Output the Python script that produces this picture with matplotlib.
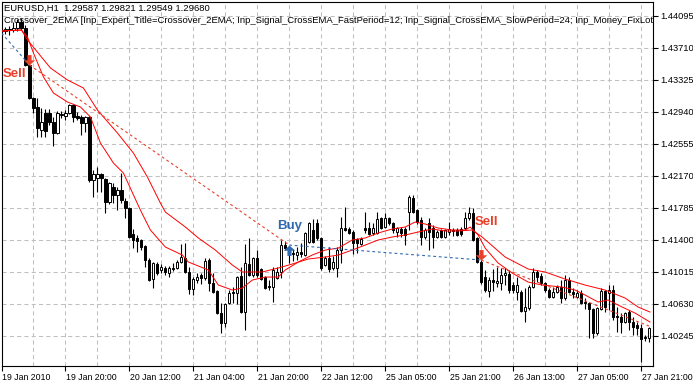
import matplotlib
matplotlib.use("Agg")
import matplotlib.pyplot as plt
from matplotlib.path import Path
from matplotlib.transforms import ScaledTranslation

# EURUSD H1, 19 Jan 2010 .. 27 Jan 2010
opens = [
    1.43923, 1.43911, 1.43935, 1.43923, 1.43947, 1.44019, 1.43947, 1.43502, 1.43105, 1.42997,
    1.42720, 1.42925, 1.42925, 1.42816, 1.42684, 1.42901, 1.42889, 1.42925, 1.43021, 1.42889,
    1.42877, 1.42804, 1.42877, 1.42118, 1.42143, 1.42191, 1.42130, 1.41854, 1.42034, 1.41938,
    1.41998, 1.41866, 1.41781, 1.41469, 1.41421, 1.41397, 1.41324, 1.41156, 1.40927, 1.41108,
    1.41036, 1.41060, 1.41000, 1.41060, 1.41060, 1.41132, 1.41180, 1.41012, 1.40807, 1.40915,
    1.40975, 1.40939, 1.41156, 1.40879, 1.40783, 1.40518, 1.40398, 1.40639, 1.40771, 1.40759,
    1.40963, 1.40530, 1.41108, 1.40975, 1.41180, 1.41048, 1.40951, 1.40843, 1.40831, 1.40939,
    1.41012, 1.41336, 1.41252, 1.41240, 1.41216, 1.41252, 1.41216, 1.41373, 1.41517, 1.41601,
    1.41421, 1.41096, 1.41180, 1.41060, 1.41060, 1.41276, 1.41541, 1.41529, 1.41493, 1.41409,
    1.41348, 1.41541, 1.41541, 1.41481, 1.41481, 1.41661, 1.41553, 1.41661, 1.41601, 1.41493,
    1.41529, 1.41529, 1.41733, 1.41902, 1.41757, 1.41637, 1.41433, 1.41601, 1.41541, 1.41433,
    1.41517, 1.41433, 1.41493, 1.41517, 1.41517, 1.41529, 1.41541, 1.41661, 1.41721, 1.41421,
    1.41132, 1.40951, 1.40783, 1.40915, 1.40879, 1.40879, 1.40975, 1.40988, 1.40855, 1.40771,
    1.40771, 1.40542, 1.40579, 1.40831, 1.41012, 1.40963, 1.40879, 1.40795, 1.40711, 1.40771,
    1.40831, 1.40699, 1.40915, 1.40771, 1.40711, 1.40759, 1.40651, 1.40639, 1.40566, 1.40278,
    1.40566, 1.40783, 1.40759, 1.40795, 1.40482, 1.40470, 1.40410, 1.40530, 1.40410, 1.40374,
    1.40338, 1.40218, 1.40218,
]
highs = [
    1.43947, 1.43959, 1.43971, 1.44019, 1.44055, 1.44067, 1.43983, 1.43538, 1.43117, 1.43105,
    1.42985, 1.42973, 1.42973, 1.42877, 1.42949, 1.42949, 1.42961, 1.43033, 1.43033, 1.42937,
    1.42901, 1.42889, 1.42889, 1.42239, 1.42275, 1.42203, 1.42143, 1.42094, 1.42082, 1.42034,
    1.42203, 1.41902, 1.41793, 1.41529, 1.41457, 1.41409, 1.41336, 1.41180, 1.41132, 1.41132,
    1.41108, 1.41084, 1.41084, 1.41120, 1.41156, 1.41348, 1.41360, 1.41072, 1.40951, 1.41000,
    1.41000, 1.41180, 1.41180, 1.41000, 1.40795, 1.40639, 1.40639, 1.40795, 1.40831, 1.40963,
    1.41072, 1.41348, 1.41421, 1.41192, 1.41276, 1.41060, 1.40963, 1.40915, 1.41072, 1.41072,
    1.41397, 1.41385, 1.41312, 1.41288, 1.41312, 1.41360, 1.41493, 1.41613, 1.41649, 1.41649,
    1.41433, 1.41204, 1.41312, 1.41204, 1.41312, 1.41673, 1.41794, 1.41553, 1.41517, 1.41421,
    1.41433, 1.41733, 1.41613, 1.41601, 1.41733, 1.41673, 1.41721, 1.41673, 1.41613, 1.41553,
    1.41553, 1.41553, 1.41938, 1.41938, 1.41769, 1.41673, 1.41541, 1.41661, 1.41577, 1.41517,
    1.41529, 1.41529, 1.41613, 1.41541, 1.41541, 1.41553, 1.41733, 1.41794, 1.41781, 1.41433,
    1.41156, 1.41036, 1.40951, 1.41048, 1.41072, 1.41060, 1.41060, 1.41036, 1.40891, 1.40951,
    1.40795, 1.40819, 1.40855, 1.41060, 1.41036, 1.41000, 1.40891, 1.40819, 1.40831, 1.40855,
    1.40915, 1.40975, 1.40951, 1.40819, 1.40795, 1.40795, 1.40699, 1.40651, 1.40579, 1.40591,
    1.40819, 1.40795, 1.40855, 1.40855, 1.40591, 1.40518, 1.40530, 1.40554, 1.40470, 1.40410,
    1.40386, 1.40254, 1.40350,
]
lows = [
    1.43887, 1.43875, 1.43863, 1.43899, 1.43911, 1.43923, 1.43490, 1.43093, 1.42925, 1.42636,
    1.42636, 1.42636, 1.42780, 1.42528, 1.42672, 1.42864, 1.42840, 1.42913, 1.42816, 1.42840,
    1.42660, 1.42696, 1.42094, 1.41914, 1.41974, 1.41974, 1.41721, 1.41830, 1.41842, 1.41757,
    1.41842, 1.41661, 1.41421, 1.41300, 1.41252, 1.41276, 1.41072, 1.40903, 1.40819, 1.40975,
    1.41000, 1.40975, 1.40951, 1.41024, 1.41048, 1.41120, 1.41000, 1.40747, 1.40735, 1.40879,
    1.40867, 1.40915, 1.40783, 1.40759, 1.40506, 1.40278, 1.40350, 1.40627, 1.40639, 1.40627,
    1.40518, 1.40314, 1.40963, 1.40951, 1.40951, 1.40915, 1.40807, 1.40795, 1.40651, 1.40927,
    1.40939, 1.41276, 1.41120, 1.41144, 1.41156, 1.41192, 1.41204, 1.41360, 1.41360, 1.41397,
    1.41036, 1.41084, 1.41012, 1.41036, 1.40951, 1.41120, 1.41505, 1.41469, 1.41228, 1.41240,
    1.41336, 1.41481, 1.41457, 1.41457, 1.41469, 1.41529, 1.41541, 1.41577, 1.41481, 1.41433,
    1.41433, 1.41336, 1.41517, 1.41721, 1.41589, 1.41336, 1.41409, 1.41276, 1.41300, 1.41421,
    1.41421, 1.41421, 1.41457, 1.41445, 1.41445, 1.41445, 1.41517, 1.41637, 1.41385, 1.41120,
    1.40867, 1.40771, 1.40711, 1.40783, 1.40831, 1.40795, 1.40855, 1.40759, 1.40759, 1.40675,
    1.40530, 1.40410, 1.40554, 1.40819, 1.40891, 1.40855, 1.40771, 1.40699, 1.40699, 1.40759,
    1.40639, 1.40675, 1.40759, 1.40699, 1.40699, 1.40627, 1.40566, 1.40218, 1.40218, 1.40254,
    1.40554, 1.40530, 1.40554, 1.40434, 1.40290, 1.40278, 1.40398, 1.40314, 1.40254, 1.40254,
    1.39929, 1.40181, 1.40169,
]
closes = [
    1.43911, 1.43935, 1.43923, 1.43947, 1.44019, 1.43947, 1.43502, 1.43105, 1.42985, 1.42744,
    1.42816, 1.42708, 1.42816, 1.42684, 1.42925, 1.42913, 1.42925, 1.43021, 1.42877, 1.42864,
    1.42804, 1.42877, 1.42118, 1.42191, 1.42191, 1.42143, 1.41854, 1.42082, 1.41938, 1.41998,
    1.41878, 1.41781, 1.41433, 1.41397, 1.41385, 1.41312, 1.41156, 1.40915, 1.41120, 1.41000,
    1.41072, 1.41012, 1.41060, 1.41048, 1.41132, 1.41192, 1.41012, 1.40807, 1.40927, 1.40951,
    1.40939, 1.41144, 1.40879, 1.40771, 1.40518, 1.40398, 1.40627, 1.40759, 1.40759, 1.40951,
    1.40530, 1.41120, 1.40975, 1.41180, 1.40975, 1.40927, 1.40819, 1.40831, 1.41036, 1.41012,
    1.41336, 1.41300, 1.41228, 1.41228, 1.41252, 1.41228, 1.41481, 1.41601, 1.41373, 1.41421,
    1.41060, 1.41180, 1.41048, 1.41132, 1.41276, 1.41541, 1.41517, 1.41481, 1.41360, 1.41360,
    1.41409, 1.41517, 1.41469, 1.41541, 1.41649, 1.41541, 1.41661, 1.41601, 1.41517, 1.41541,
    1.41481, 1.41457, 1.41914, 1.41733, 1.41613, 1.41433, 1.41517, 1.41493, 1.41433, 1.41493,
    1.41433, 1.41517, 1.41529, 1.41505, 1.41457, 1.41469, 1.41661, 1.41721, 1.41397, 1.41132,
    1.40891, 1.40795, 1.40915, 1.40891, 1.40903, 1.40975, 1.41000, 1.40795, 1.40795, 1.40855,
    1.40542, 1.40591, 1.40831, 1.41012, 1.40951, 1.40879, 1.40795, 1.40711, 1.40771, 1.40831,
    1.40699, 1.40915, 1.40771, 1.40747, 1.40759, 1.40639, 1.40639, 1.40566, 1.40278, 1.40579,
    1.40783, 1.40591, 1.40795, 1.40470, 1.40470, 1.40410, 1.40518, 1.40410, 1.40350, 1.40338,
    1.40205, 1.40230, 1.40338,
]

# EMA(12) / EMA(24) as drawn on the chart, sampled (bar index, price)
ema_fast_bar = [0, 5, 6.5, 8, 10.5, 13, 16.5, 19.75, 22.25, 24.75, 28, 30.5, 34.75, 37.25,
                41, 45.25, 46.75, 51.75, 54.25, 57.75, 60.25, 62.75, 66, 69.25, 71, 74.25,
                77.75, 81, 84.25, 87.75, 91, 94.25, 97.75, 101, 103.5, 106, 109.25, 112.75,
                116, 117.25, 119.25, 121, 124.25, 127.75, 131.75, 135.25, 140.25, 143.5,
                146, 149.25, 151.75, 155.25, 158.5, 162.25]
ema_fast_val = [1.43911, 1.43923, 1.43839, 1.43646, 1.43358, 1.43165, 1.43057, 1.42997,
                1.42877, 1.42564, 1.42323, 1.42203, 1.41757, 1.41517, 1.41312, 1.41216,
                1.41132, 1.41036, 1.40855, 1.40795, 1.40819, 1.40915, 1.40951, 1.40951,
                1.41036, 1.41132, 1.41216, 1.41276, 1.41300, 1.41397, 1.41421, 1.41481,
                1.41529, 1.41553, 1.41613, 1.41589, 1.41541, 1.41517, 1.41517, 1.41553,
                1.41457, 1.41300, 1.41120, 1.41000, 1.40891, 1.40855, 1.40831, 1.40795,
                1.40735, 1.40651, 1.40675, 1.40591, 1.40518, 1.40410]
ema_slow_bar = [0, 5, 6.5, 12.25, 16.5, 20.5, 24, 29, 33, 36.5, 39.75, 41, 46, 49.25, 53.5,
                57.75, 60.25, 65.25, 69.25, 72.75, 76.75, 81, 84.25, 87.75, 91, 94.25, 97.75,
                101, 104.25, 107.75, 111, 114.25, 117.75, 120.25, 126, 131.75, 136, 141,
                146, 151, 156, 159.25, 162.25]
ema_slow_val = [1.43911, 1.43923, 1.43803, 1.43466, 1.43322, 1.43225, 1.42961, 1.42684,
                1.42443, 1.42155, 1.41842, 1.41733, 1.41553, 1.41421, 1.41276, 1.41096,
                1.41012, 1.41012, 1.41060, 1.41108, 1.41168, 1.41192, 1.41216, 1.41276,
                1.41336, 1.41397, 1.41433, 1.41457, 1.41493, 1.41529, 1.41505, 1.41505,
                1.41517, 1.41433, 1.41192, 1.41048, 1.41012, 1.40927, 1.40855, 1.40795,
                1.40699, 1.40591, 1.40530]

# deals: (bar, price, kind)
deal_bar = [7, 72, 120]
deal_price = [1.43502, 1.41336, 1.41156]
deal_kind = ["sell", "buy", "sell"]
# trade lines: earlier position closed at first sell, open position at last bar
prev_bar, prev_price = 0, 1.43887
last_bar, last_price = 162, 1.40362

price_ticks = [1.40245, 1.40630, 1.41015, 1.41400, 1.41785, 1.42170,
               1.42555, 1.42940, 1.43325, 1.43710, 1.44095]
time_tick_bars = [0, 16, 32, 48, 64, 80, 96, 112, 128, 144, 160]
time_tick_labels = ["19 Jan 2010", "19 Jan 20:00", "20 Jan 12:00", "21 Jan 04:00",
                    "21 Jan 20:00", "22 Jan 12:00", "25 Jan 05:00", "25 Jan 21:00",
                    "26 Jan 13:00", "27 Jan 05:00", "27 Jan 21:00"]

SELL_C = "#e8402a"
BUY_C = "#2f69b0"
FONT = "Liberation Sans"

W, H = 693, 383
fig = plt.figure(figsize=(W / 100, H / 100), dpi=100)
ax = fig.add_axes([1.5 / W, (H - 366) / H, 651.5 / W, 364 / H])
ax.set_xlim(0.125, 163.0)
ax.set_ylim(1.39881, 1.44260)

# grid
for b in range(8, 163, 8):
    ax.axvline(b, color="#c0c0c0", lw=0.75, ls=(0, (4, 3)), zorder=0)
for p in price_ticks:
    ax.axhline(p, color="#c0c0c0", lw=0.75, ls=(0, (4, 3)), zorder=0)

# candles
for i in range(len(opens)):
    o, h, l, c = opens[i], highs[i], lows[i], closes[i]
    ax.vlines(i, l, h, color="black", lw=0.8, zorder=2)
    face = "white" if c > o else "black"
    ax.bar(i, max(abs(c - o), 0.00001), bottom=min(o, c), width=0.55,
           facecolor=face, edgecolor="black", lw=0.7, zorder=3)

# moving averages
ax.plot(ema_fast_bar, ema_fast_val, color="red", lw=0.7, zorder=4)
ax.plot(ema_slow_bar, ema_slow_val, color="red", lw=0.7, zorder=4)

# trade lines
dash = (0, (2.5, 2.5))
ax.plot([prev_bar, deal_bar[0]], [prev_price, deal_price[0]], color=BUY_C, lw=0.8, ls=dash, zorder=4)
ax.plot([deal_bar[0], deal_bar[1]], [deal_price[0], deal_price[1]], color=SELL_C, lw=0.8, ls=dash, zorder=4)
ax.plot([deal_bar[1], deal_bar[2]], [deal_price[1], deal_price[2]], color=BUY_C, lw=0.8, ls=dash, zorder=4)
ax.plot([deal_bar[2], last_bar], [deal_price[2], last_price], color=SELL_C, lw=0.8, ls=dash, zorder=4)

# deal arrows, tip sits on the deal price
down = Path([(0, 0), (0.55, 0.5), (0.2, 0.5), (0.2, 1.0), (-0.2, 1.0),
             (-0.2, 0.5), (-0.55, 0.5), (0, 0)], closed=True)
up = Path([(x, -y) for x, y in down.vertices], closed=True)
for b, p, k in zip(deal_bar, deal_price, deal_kind):
    ax.plot(b, p, marker=down if k == "sell" else up, ms=15,
            color=SELL_C if k == "sell" else BUY_C, mec="none", zorder=6)

ax.text(0.25, 1.43394, "Sell", color=SELL_C, fontsize=9.5, fontweight="bold",
        family=FONT, va="center", ha="left", zorder=7)
ax.text(69.0, 1.41565, "Buy", color=BUY_C, fontsize=9.5, fontweight="bold",
        family=FONT, va="center", ha="left", zorder=7)
ax.text(118.5, 1.41613, "Sell", color=SELL_C, fontsize=9.5, fontweight="bold",
        family=FONT, va="center", ha="left", zorder=7)

# header lines
ax.text(2.5 / 651.5, 1 - 6.5 / 364, "EURUSD,H1  1.29587 1.29821 1.29549 1.29680",
        transform=ax.transAxes, fontsize=6.8, family=FONT, va="center", ha="left",
        clip_on=True, zorder=8)
ax.text(2.5 / 651.5, 1 - 18.5 / 364,
        "Crossover_2EMA [Inp_Expert_Title=Crossover_2EMA; Inp_Signal_CrossEMA_FastPeriod=12; "
        "Inp_Signal_CrossEMA_SlowPeriod=24; Inp_Money_FixLot_",
        transform=ax.transAxes, fontsize=6.8, family=FONT, va="center", ha="left",
        clip_on=True, zorder=8)

# axes
for s in ax.spines.values():
    s.set_linewidth(0.8)
ax.yaxis.tick_right()
ax.set_yticks(price_ticks)
ax.set_yticklabels([f"{p:.5f}" for p in price_ticks])
ax.set_xticks(time_tick_bars)
ax.set_xticklabels(time_tick_labels)
ax.tick_params(axis="both", length=3.5, width=0.8, labelsize=6.7, pad=1.5)
ax.tick_params(axis="x", labelsize=6.3)
for lab in ax.get_yticklabels() + ax.get_xticklabels():
    lab.set_family(FONT)
for lab in ax.get_xticklabels():
    lab.set_ha("left")
    lab.set_transform(lab.get_transform() + ScaledTranslation(1.0 / 100, 0, fig.dpi_scale_trans))

fig.savefig("out.png", dpi=100, facecolor="white")
